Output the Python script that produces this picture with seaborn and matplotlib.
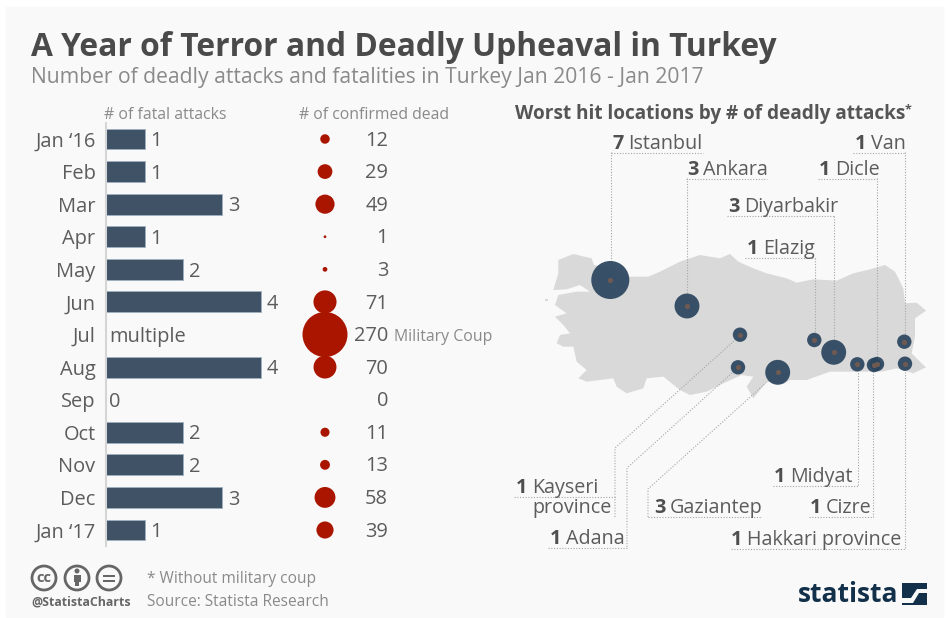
import matplotlib.pyplot as plt
from matplotlib.patches import Circle, Polygon, Rectangle
import numpy as np
import pandas as pd
import seaborn as sns

months = ["Jan ‘16", "Feb", "Mar", "Apr", "May", "Jun", "Jul", "Aug", "Sep", "Oct", "Nov", "Dec", "Jan ‘17"]
attacks = [1, 1, 3, 1, 2, 4, 0, 4, 0, 2, 2, 3, 1]
attack_labels = ["1", "1", "3", "1", "2", "4", "multiple", "4", "0", "2", "2", "3", "1"]
dead = [12, 29, 49, 1, 3, 71, 270, 70, 0, 11, 13, 58, 39]

cities = ["Istanbul", "Ankara", "Kayseri\nprovince", "Adana", "Gaziantep", "Elazig", "Diyarbakir",
          "Midyat", "Cizre", "Dicle", "Van", "Hakkari province"]
city_counts = [7, 3, 1, 1, 3, 1, 3, 1, 1, 1, 1, 1]
city_x = [610.3, 687, 740, 738, 777.7, 814.3, 833.7, 857.3, 874, 877, 904.3, 905]
city_y = [280, 306, 334.7, 367.3, 372.3, 340, 352.3, 364.3, 365, 364, 341.7, 363.7]

# outline, in 3x crop units
outline_x = [115, 160, 215, 222, 270, 330, 385, 420, 480, 540, 600, 630, 655, 700, 740, 800, 830, 880, 950, 1000,
             1050, 1095, 1125, 1150, 1155, 1190, 1218, 1185, 1185, 1175, 1200, 1218, 1180, 1130, 1085, 1040, 990,
             930, 860, 810, 790, 740, 700, 680, 700, 665, 610, 560, 510, 480, 430, 380, 370, 320, 290, 280, 200,
             175, 200, 170, 160, 130, 110, 120, 150, 130, 105, 140, 105, 115, 170, 210, 180, 140, 100, 115]
outline_y = [90, 72, 85, 105, 115, 140, 140, 125, 95, 75, 85, 72, 95, 115, 130, 145, 158, 148, 152, 130,
             118, 105, 125, 175, 220, 218, 242, 265, 320, 370, 395, 412, 430, 415, 425, 425, 425,
             425, 450, 450, 462, 455, 505, 470, 440, 435, 460, 485, 495, 480, 440, 445, 475, 490, 470, 445, 455,
             445, 420, 395, 350, 350, 340, 315, 310, 285, 260, 250, 225, 195, 185, 185, 165, 178, 180, 130]

BAR = "#3f5266"
RED = "#aa1500"
TXT = "#5c5c5c"
GREY = "#8a8a8a"
LEAD = "#a5a5a5"

W, H = 946, 618

sns.set_theme(style="white")
plt.rcParams["font.family"] = ["Open Sans", "DejaVu Sans"]

fig = plt.figure(figsize=(W / 100, H / 100), dpi=100, facecolor="white")


def px_axes(left, top, right, bottom):
    return fig.add_axes([left / W, 1 - bottom / H, (right - left) / W, (bottom - top) / H])


# whole page in pixels, for the map and all loose text
page = px_axes(0, 0, W, H)
page.add_patch(Rectangle((6, 7), 937, 610, color="#f9f9f9", zorder=0))
page.add_patch(Polygon(np.column_stack([520 + np.array(outline_x) / 3, 230 + np.array(outline_y) / 3]),
                       color="#d9d9d9", lw=0, zorder=1))
page.add_patch(Rectangle((545, 299), 3, 2, color="#d9d9d9", lw=0, zorder=1))

sns.scatterplot(x=city_x, y=city_y, size=city_counts, sizes=(0, 750), size_norm=(0, 7), color="#2b455e",
                alpha=0.93, linewidth=0, legend=False, ax=page, zorder=3)
sns.scatterplot(x=city_x, y=city_y, s=14, color="#6e5a52", linewidth=0, legend=False, ax=page, zorder=4)

page.set_xlim(0, W)
page.set_ylim(H, 0)
page.axis("off")

page.text(31, 48, "A Year of Terror and Deadly Upheaval in Turkey", fontsize=22.9, fontweight="bold",
          color="#4a4a4a", va="center")
page.text(31, 78, "Number of deadly attacks and fatalities in Turkey Jan 2016 - Jan 2017", fontsize=15.2,
          color=GREY, va="center")
page.text(104, 115, "# of fatal attacks", fontsize=11.4, color=GREY, va="center")
page.text(299, 115, "# of confirmed dead", fontsize=11.3, color=GREY, va="center")
page.text(515, 114, "Worst hit locations by # of deadly attacks", fontsize=13.7, fontweight="bold",
          color="#555555", va="center")
page.text(905, 110, "*", fontsize=9, fontweight="bold", color="#555555", va="center")
page.text(394, 337, "Military Coup", fontsize=11.4, color=GREY, va="center")

# label: count, name, text x, baseline y, underline start, underline end, leader points
labels = [
    ("7", "Istanbul", 612, 149, 611, 703, [(611, 152), (611, 261)]),
    ("3", "Ankara", 687, 175, 686, 767, [(686.5, 178), (686.5, 294)]),
    ("3", "Diyarbakir", 728, 212, 727, 834, [(834, 216), (834, 340)]),
    ("1", "Elazig", 747, 254, 745, 815, [(815, 258), (815, 333)]),
    ("1", "Dicle", 819, 175, 818, 877, [(877, 178), (877, 357)]),
    ("1", "Van", 855, 149, 853, 905, [(905, 152), (905, 335)]),
    ("1", "Kayseri", 516, 493, 514, 615, [(615, 517), (615, 448), (735, 340)]),
    ("1", "Adana", 550, 544, 548, 627, [(627, 547), (627, 468), (732, 373)]),
    ("3", "Gaziantep", 654, 513, 648, 762, [(648, 517), (648, 489), (768, 381)]),
    ("1", "Midyat", 774, 482, 773, 858, [(858, 485), (858, 371)]),
    ("1", "Cizre", 810, 513, 809, 873, [(873, 517), (873, 372)]),
    ("1", "Hakkari province", 731, 545, 731, 905, [(905, 548), (905, 371)]),
]
for num, name, tx, ty, u0, u1, pts in labels:
    t = page.text(tx, ty, num, fontsize=14.2, fontweight="bold", color="#4f4f4f", va="baseline")
    page.annotate(name, xy=(1, 0), xycoords=t, xytext=(3.5, 0), textcoords="offset points", fontsize=14.2,
                  color=TXT, va="bottom", annotation_clip=False)
    page.plot([u0, u1], [ty + 3.5, ty + 3.5], color=LEAD, lw=0.8, ls=(0, (1, 1.5)), zorder=2)
    page.plot([p[0] for p in pts], [p[1] for p in pts], color=LEAD, lw=0.8, ls=(0, (1, 1.5)), zorder=2)
page.text(532, 513, "province", fontsize=14.2, color=TXT, va="baseline")

# bars
df = pd.DataFrame({"month": months, "attacks": attacks, "dead": dead, "col": 0})
ax = px_axes(106, 122.7, 300, 546.3)
sns.barplot(data=df, y="month", x="attacks", color=BAR, saturation=1, width=0.64, edgecolor="#9fb0c0",
            linewidth=0.6, ax=ax)
ax.patch.set_alpha(0)
ax.set_xlim(0, 194 / 38.7)
ax.set_ylim(12.5, -0.5)
ax.set_xlabel("")
ax.set_ylabel("")
ax.set_xticks([])
ax.tick_params(axis="y", length=0, pad=7.5, labelsize=14.4, labelcolor=TXT)
sns.despine(ax=ax, top=True, right=True, bottom=True)
ax.spines["left"].set_color("#d5d5d5")
ax.spines["left"].set_linewidth(1.5)
bar_texts = ax.bar_label(ax.containers[0], labels=attack_labels, padding=4, fontsize=14.4, color=TXT)
for t, a in zip(bar_texts, attacks):
    t.xyann = (t.xyann[0] - (1.5 if a == 0 else 0), t.xyann[1] - 1.6)

# bubbles, one axis unit is one pixel
ax2 = px_axes(280, 122.7, 392, 546.3)
sns.scatterplot(data=df, x="col", y="month", size="dead", sizes=(0, 1050), size_norm=(0, 270), color=RED,
                linewidth=0, legend=False, ax=ax2, clip_on=False)
for i, v in enumerate(dead):
    ax2.text(63, i + 0.05, str(v), ha="right", va="center", fontsize=14.4, color=TXT)
ax2.set_xlim(-45, 67)
ax2.set_ylim(12.5, -0.5)
ax2.axis("off")

# footer
for cx in [44, 77, 109]:
    page.add_patch(Circle((cx, 578), 12, fc="none", ec="#666666", lw=2, zorder=3))
page.text(44, 577.5, "cc", fontsize=10.5, fontweight="bold", color="#666666", ha="center", va="center")
page.add_patch(Circle((77, 571), 2.5, color="#666666", lw=0, zorder=3))
page.add_patch(Rectangle((73.5, 574.5), 7, 7, color="#666666", lw=0, zorder=3))
page.add_patch(Rectangle((75, 580), 4, 6, color="#666666", lw=0, zorder=3))
page.add_patch(Rectangle((103, 574.5), 12, 2.3, color="#666666", lw=0, zorder=3))
page.add_patch(Rectangle((103, 579.8), 12, 2.3, color="#666666", lw=0, zorder=3))
page.text(31, 602, "@StatistaCharts", fontsize=8.9, fontweight="bold", color="#666666", va="center")
page.text(147, 579, "* Without military coup", fontsize=11.2, color=GREY, va="center")
page.text(147, 602, "Source: Statista Research", fontsize=11.2, color=GREY, va="center")

page.text(798, 595, "statista", fontsize=19, fontweight="bold", color="#12304a", va="center")
page.add_patch(Rectangle((902, 583), 25, 22, color="#12304a", lw=0, zorder=3))
page.add_patch(Polygon([(902, 598), (911, 598), (917, 589), (927, 589), (927, 593), (919, 593), (913, 603), (902, 603)],
                       color="#f9f9f9", lw=0, zorder=4))

fig.savefig("out.png", dpi=100)
